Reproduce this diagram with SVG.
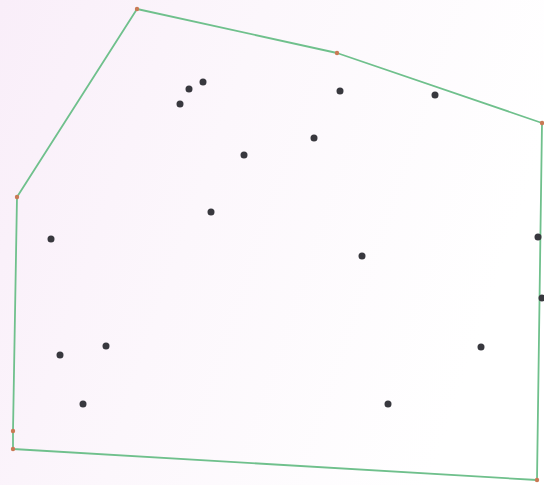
<svg xmlns="http://www.w3.org/2000/svg" width="544" height="485" viewBox="0 0 544 485">
<defs>
<linearGradient id="bg" x1="0" y1="0" x2="1" y2="0.3">
<stop offset="0" stop-color="#f9eef9"/>
<stop offset="0.45" stop-color="#fcf7fc"/>
<stop offset="1" stop-color="#ffffff"/>
</linearGradient>
<style>
.hull{fill:none;stroke:#6fc08c;stroke-width:1.8;stroke-linejoin:round}
.pt{fill:#38383e}
.hv{fill:#c97a55}
</style>
</defs>
<rect width="544" height="485" fill="url(#bg)"/>
<g id="connectors">
<polygon class="hull" points="137,9 337,53 542,123 537,480 13,449 13,431 17,197"/>
</g>
<g id="hull-vertices">
<circle id="v1" class="hv" cx="137" cy="9" r="2.2"/>
<circle id="v2" class="hv" cx="337" cy="53" r="2.2"/>
<circle id="v3" class="hv" cx="542" cy="123" r="2.2"/>
<circle id="v4" class="hv" cx="537" cy="480" r="2.2"/>
<circle id="v5" class="hv" cx="13" cy="449" r="2.2"/>
<circle id="v6" class="hv" cx="13" cy="431" r="2.2"/>
<circle id="v7" class="hv" cx="17" cy="197" r="2.2"/>
</g>
<g id="points">
<circle id="p1" class="pt" cx="203" cy="82" r="3.5"/>
<circle id="p2" class="pt" cx="189" cy="89" r="3.5"/>
<circle id="p3" class="pt" cx="180" cy="104" r="3.5"/>
<circle id="p4" class="pt" cx="244" cy="155" r="3.5"/>
<circle id="p5" class="pt" cx="211" cy="212" r="3.5"/>
<circle id="p6" class="pt" cx="51" cy="239" r="3.5"/>
<circle id="p7" class="pt" cx="340" cy="91" r="3.5"/>
<circle id="p8" class="pt" cx="435" cy="95" r="3.5"/>
<circle id="p9" class="pt" cx="314" cy="138" r="3.5"/>
<circle id="p10" class="pt" cx="538" cy="237" r="3.5"/>
<circle id="p11" class="pt" cx="106" cy="346" r="3.5"/>
<circle id="p12" class="pt" cx="60" cy="355" r="3.5"/>
<circle id="p13" class="pt" cx="83" cy="404" r="3.5"/>
<circle id="p14" class="pt" cx="362" cy="256" r="3.5"/>
<circle id="p15" class="pt" cx="542" cy="298" r="3.5"/>
<circle id="p16" class="pt" cx="481" cy="347" r="3.5"/>
<circle id="p17" class="pt" cx="388" cy="404" r="3.5"/>
</g>
</svg>
